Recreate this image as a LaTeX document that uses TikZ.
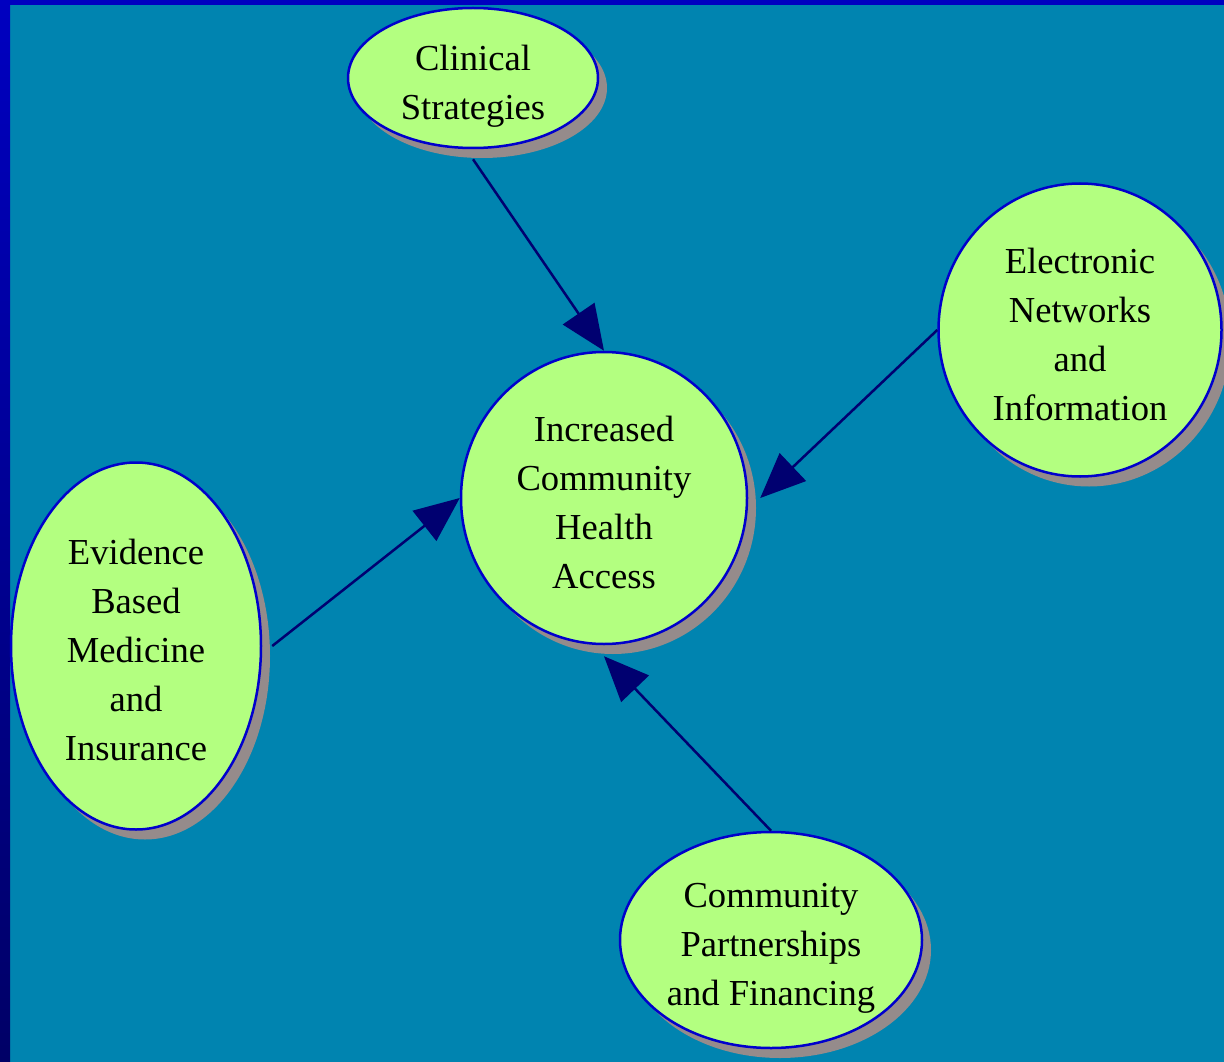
\documentclass[tikz,border=0pt]{standalone}
\usepackage{fontspec}
\setmainfont{Liberation Serif}
\usetikzlibrary{shapes.geometric,shadows,arrows.meta}
\definecolor{bgblue}{HTML}{0084B0}
\definecolor{barblue}{HTML}{0000C0}
\definecolor{bardark}{HTML}{000066}
\definecolor{nodegreen}{HTML}{B3FF80}
\definecolor{edgeblue}{HTML}{0000CC}
\definecolor{shadowgray}{HTML}{958B8B}
\definecolor{arrownavy}{HTML}{000070}
\newcommand{\bubtxt}[1]{\raisebox{-7pt}[\height][\depth]{\begin{tabular}{@{}c@{}}#1\end{tabular}}}
\tikzset{
  bubble/.style={ellipse, draw=edgeblue, line width=2.5pt, fill=nodegreen,
    inner sep=0pt, font=\fontsize{36.6}{49}\selectfont,
    drop shadow={shadow xshift=9pt, shadow yshift=-10pt, fill=shadowgray, opacity=1}},
  arr/.style={draw=arrownavy, line width=2.5pt,
    -{Triangle[length=45pt,width=38pt]}}
}
\begin{document}
\begin{tikzpicture}[x=1pt,y=-1pt]
\useasboundingbox (0,0) rectangle (1224,1062);
\clip (0,0) rectangle (1224,1062);
\fill[bgblue] (0,0) rectangle (1224,1062);
\shade[top color=barblue, bottom color=bardark] (0,0) rectangle (10,1062);
\fill[barblue] (0,0) rectangle (1224,5);

\node[bubble, minimum width=250pt, minimum height=140pt] (clin) at (473,78) {\bubtxt{Clinical\\Strategies}};
\node[bubble, minimum width=286pt, minimum height=292pt] (center) at (604,498) {\bubtxt{Increased\\Community\\Health\\Access}};
\node[bubble, minimum width=283pt, minimum height=293pt] (elec) at (1080,330) {\bubtxt{Electronic\\Networks\\and\\Information}};
\node[bubble, minimum width=250pt, minimum height=367pt] (evid) at (136,646) {\bubtxt{Evidence\\Based\\Medicine\\and\\Insurance}};
\node[bubble, minimum width=302pt, minimum height=216pt] (comm) at (771,940) {\bubtxt{Community\\Partnerships\\and Financing}};

\draw[arr] ([yshift=-10pt]clin.south) -- (center.north);
\draw[arr] (elec.west) -- ([xshift=12pt]center.east);
\draw[arr] ([xshift=10pt]evid.east) -- (center.west);
\draw[arr] (comm.north) -- ([yshift=-11pt]center.south);
\end{tikzpicture}
\end{document}
